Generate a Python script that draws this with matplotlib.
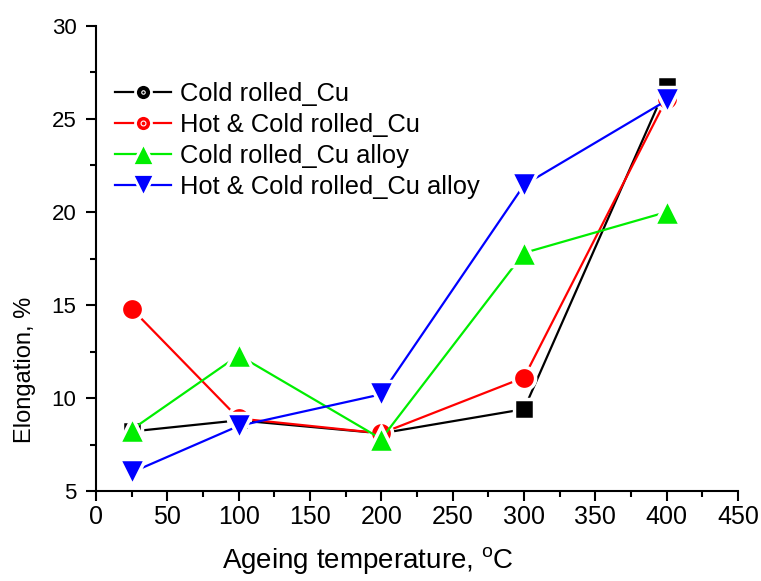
import numpy as np
import matplotlib.pyplot as plt
from matplotlib.lines import Line2D
from matplotlib.legend_handler import HandlerTuple
from matplotlib.ticker import MultipleLocator

plt.rcParams['font.family'] = ['Liberation Sans', 'DejaVu Sans']

# ── Data ───────────────────────────────────────────────────
temps = [25, 100, 200, 300, 400]
cold_cu = [8.2, 8.8, 8.1, 9.4, 26.8]
hot_cold_cu = [14.8, 8.9, 8.1, 11.1, 26.1]
cold_alloy = [8.3, 12.3, 7.8, 17.8, 20.0]
hot_cold_alloy = [6.0, 8.5, 10.2, 21.45, 26.0]

labels = ['Cold rolled_Cu', 'Hot & Cold rolled_Cu',
          'Cold rolled_Cu alloy', 'Hot & Cold rolled_Cu alloy']
series = [cold_cu, hot_cold_cu, cold_alloy, hot_cold_alloy]
colors = ['black', 'red', '#00ee00', 'blue']
markers = ['s', 'o', '^', 'v']
sizes = [14, 16, 19, 19]

fig = plt.figure(figsize=(7.61, 5.81), dpi=100)
ax = fig.add_axes([96 / 761, 1 - 491 / 581, 642 / 761, 465 / 581])

for y, c, m, s in zip(series, colors, markers, sizes):
    ax.plot(temps, y, color=c, lw=1.6, marker=m, ms=s,
            mfc=c, mec='white', mew=2.5)

# ── Legend (circles for the Cu series, like the original) ──
def handle(c, m, ms):
    return Line2D([0], [0], color=c, lw=1.6, marker=m, ms=ms,
                  mfc=c, mec='white', mew=2)

handles = [
    (handle('black', 'o', 11.5), Line2D([0], [0], ls='none', marker='o', ms=2.5,
                                        mfc='none', mec='white', mew=0.8)),
    (handle('red', 'o', 11.5), Line2D([0], [0], ls='none', marker='o', ms=3.5,
                                      mfc='none', mec='white', mew=0.8)),
    handle('#00ee00', '^', 15.5),
    handle('blue', 'v', 15.5),
]
ax.legend(handles, labels, loc='upper left',
          bbox_to_anchor=(115 / 761, 1 - 82 / 581), bbox_transform=fig.transFigure,
          frameon=False, fontsize=18.4, handlelength=2.2, handletextpad=0.36,
          labelspacing=0.27, borderpad=0, borderaxespad=0,
          handler_map={tuple: HandlerTuple(ndivide=1)})

ax.set_xlim(0, 450)
ax.set_ylim(5, 30)
ax.xaxis.set_major_locator(MultipleLocator(50))
ax.xaxis.set_minor_locator(MultipleLocator(25))
ax.yaxis.set_major_locator(MultipleLocator(5))
ax.yaxis.set_minor_locator(MultipleLocator(2.5))

for side in ['top', 'right']:
    ax.spines[side].set_visible(False)
for side in ['left', 'bottom']:
    ax.spines[side].set_linewidth(1.5)

ax.tick_params(which='major', direction='out', length=7, width=1.5)
ax.tick_params(which='minor', direction='out', length=4.5, width=1.5)
ax.tick_params(axis='x', labelsize=18, pad=3)
ax.tick_params(axis='y', labelsize=16, pad=7)

ax.set_xlabel('Ageing temperature, $\\mathregular{^oC}$', fontsize=20)
ax.set_ylabel('Elongation, %', fontsize=17)
ax.xaxis.set_label_coords((368 - 96) / 642, (491 - 545) / 465)
ax.yaxis.set_label_coords((36 - 96) / 642, (491 - 370) / 465)

fig.savefig('out.png', dpi=100)
